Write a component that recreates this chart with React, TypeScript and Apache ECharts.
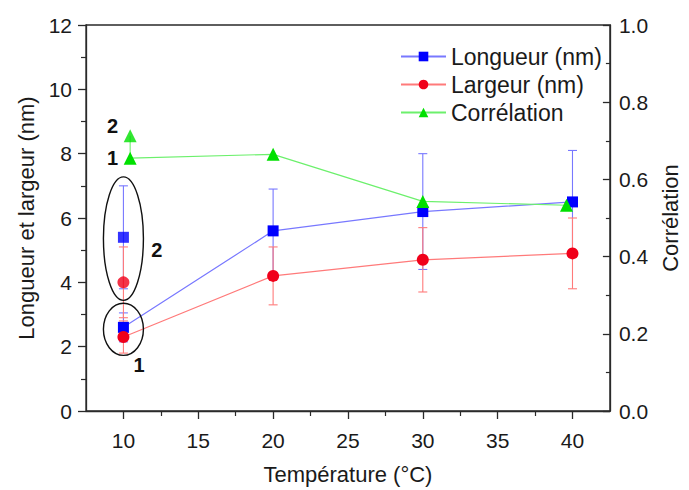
import React, { useEffect, useRef } from "react";
import * as echarts from "echarts";

// ---- data ----
const temps = [10, 20, 30, 40];
const longueur = [2.6, 5.6, 6.2, 6.5];
const longueurErr = [0.45, 1.3, 1.8, 1.6];
const largeur = [2.3, 4.2, 4.7, 4.9];
const largeurErr = [0.5, 0.9, 1.0, 1.1];
const corrTemps = [10.45, 20, 30, 39.6];
const correlation = [0.655, 0.665, 0.543, 0.533];

// second measurement at 10 °C (group "2")
const group2Temp = 10;
const group2CorrTemp = 10.45;
const longueur2 = 5.4;
const longueur2Err = 1.6;
const largeur2 = 4.0;
const largeur2Err = 1.1;
const correlation2 = 0.713;

// ellipses: [x, yCenter, yHalfHeight] in data units
const ellipses = [
  [10, 5.36, 1.92],
  [10, 2.54, 0.81],
];
// annotation labels: [x, y, text]
const annotations: [number, number, string][] = [
  [9.27, 8.86, "2"],
  [9.27, 7.86, "1"],
  [12.23, 5.0, "2"],
  [11.05, 1.43, "1"],
];

const xMajorTicks = [10, 15, 20, 25, 30, 35, 40];
const xMinorTicks = [12.5, 17.5, 22.5, 27.5, 32.5, 37.5];

const FONT = "Liberation Sans, Arial, sans-serif";
const TXT = "#1a1a1a";
const AX = "#2a2a2a";

const BLUE = "#0000ff";
const BLUE_L = "#7878ff";
const RED = "#f0001a";
const RED_L = "#ff7a7a";
const GREEN = "#00e000";
const GREEN_L = "#6cf06c";

function errorSeries(data: number[][], color: string, yAxisIndex: number, caps: boolean) {
  return {
    type: "custom",
    yAxisIndex,
    xAxisIndex: 0,
    z: 1,
    silent: true,
    encode: { x: 0, y: [1, 2] },
    data,
    renderItem: (params: any, api: any) => {
      const x = api.value(0);
      const lo = api.value(1);
      const hi = api.value(2);
      const top = api.coord([x, hi]);
      const bot = api.coord([x, lo]);
      const hw = 4.5;
      const st = { stroke: color, lineWidth: 1.1 };
      const children: any[] = [
        { type: "line", shape: { x1: top[0], y1: top[1], x2: bot[0], y2: bot[1] }, style: st },
      ];
      if (caps) {
        children.push({ type: "line", shape: { x1: top[0] - hw, y1: top[1], x2: top[0] + hw, y2: top[1] }, style: st });
        children.push({ type: "line", shape: { x1: bot[0] - hw, y1: bot[1], x2: bot[0] + hw, y2: bot[1] }, style: st });
      }
      return { type: "group", children };
    },
  };
}

export default function App() {
  const ref = useRef<HTMLDivElement>(null);
  useEffect(() => {
    if (!ref.current) return;
    const chart = echarts.init(ref.current, null, { renderer: "svg" });

    const blueErr = temps.map((t, i) => [t, longueur[i] - longueurErr[i], longueur[i] + longueurErr[i]]);
    blueErr.push([group2Temp, longueur2 - longueur2Err, longueur2 + longueur2Err]);
    const redErr = temps.map((t, i) => [t, largeur[i] - largeurErr[i], largeur[i] + largeurErr[i]]);
    redErr.push([group2Temp, largeur2 - largeur2Err, largeur2 + largeur2Err]);
    const greenLink = [[group2CorrTemp, correlation[0], correlation2]];

    const option: any = {
      animation: false,
      backgroundColor: "#ffffff",
      textStyle: { fontFamily: FONT, color: TXT },
      grid: {
        left: 86,
        right: 70,
        top: 25,
        bottom: 71,
        show: true,
        borderColor: AX,
        borderWidth: 1.3,
        containLabel: false,
      },
      legend: {
        orient: "vertical",
        left: 395,
        top: 40,
        itemWidth: 45,
        itemHeight: 12,
        itemGap: 5,
        textStyle: { fontFamily: FONT, fontSize: 23, color: TXT },
        data: ["Longueur (nm)", "Largeur (nm)", "Corrélation"],
      },
      xAxis: [
        {
          type: "value",
          min: 7.5,
          max: 42.5,
          interval: 2.5,
          position: "bottom",
          axisLine: { show: true, lineStyle: { color: AX, width: 1.3 } },
          axisTick: { show: true, customValues: xMajorTicks, length: 8, lineStyle: { color: AX, width: 1.3 } },
          axisLabel: { customValues: xMajorTicks, fontSize: 21, color: TXT, fontFamily: FONT, margin: 19 },
          splitLine: { show: false },
          name: "Température (°C)",
          nameLocation: "middle",
          nameGap: 52,
          nameTextStyle: { fontSize: 22, color: TXT, fontFamily: FONT },
        },
        {
          type: "value",
          min: 7.5,
          max: 42.5,
          interval: 2.5,
          position: "bottom",
          axisLine: { show: false },
          axisTick: { show: true, customValues: xMinorTicks, length: 5, lineStyle: { color: AX, width: 1.2 } },
          axisLabel: { show: false },
          splitLine: { show: false },
        },
      ],
      yAxis: [
        {
          type: "value",
          min: 0,
          max: 12,
          interval: 2,
          position: "left",
          axisLine: { show: true, lineStyle: { color: AX, width: 1.3 } },
          axisTick: { show: true, length: 8, lineStyle: { color: AX, width: 1.3 } },
          minorTick: { show: true, splitNumber: 2, length: 5, lineStyle: { color: AX, width: 1.2 } },
          axisLabel: { fontSize: 21, color: TXT, fontFamily: FONT, margin: 14 },
          splitLine: { show: false },
          name: "Longueur et largeur (nm)",
          nameLocation: "middle",
          nameGap: 46,
          nameTextStyle: { fontSize: 22, color: TXT, fontFamily: FONT },
        },
        {
          type: "value",
          min: 0,
          max: 1,
          interval: 0.2,
          position: "right",
          axisLine: { show: true, lineStyle: { color: AX, width: 1.3 } },
          axisTick: { show: true, inside: true, length: 7, lineStyle: { color: AX, width: 1.3 } },
          minorTick: { show: true, splitNumber: 2, length: 4, lineStyle: { color: AX, width: 1.2 } },
          axisLabel: {
            fontSize: 21,
            color: TXT,
            fontFamily: FONT,
            margin: 9,
            formatter: (v: number) => v.toFixed(1),
          },
          splitLine: { show: false },
          name: "Corrélation",
          nameLocation: "middle",
          nameGap: 46,
          nameTextStyle: { fontSize: 22, color: TXT, fontFamily: FONT },
        },
      ],
      series: [
        errorSeries(blueErr, BLUE_L, 0, true),
        errorSeries(redErr, RED_L, 0, true),
        errorSeries(greenLink, GREEN_L, 1, false),
        {
          name: "Longueur (nm)",
          type: "line",
          xAxisIndex: 0,
          yAxisIndex: 0,
          z: 3,
          data: temps.map((t, i) => [t, longueur[i]]),
          symbol: "rect",
          symbolSize: 11,
          itemStyle: { color: BLUE },
          lineStyle: { color: BLUE_L, width: 1.2 },
        },
        {
          name: "Largeur (nm)",
          type: "line",
          xAxisIndex: 0,
          yAxisIndex: 0,
          z: 3,
          data: temps.map((t, i) => [t, largeur[i]]),
          symbol: "circle",
          symbolSize: 12,
          itemStyle: { color: RED },
          lineStyle: { color: RED_L, width: 1.2 },
        },
        {
          name: "Corrélation",
          type: "line",
          xAxisIndex: 0,
          yAxisIndex: 1,
          z: 3,
          data: corrTemps.map((t, i) => [t, correlation[i]]),
          symbol: "triangle",
          symbolSize: 13,
          itemStyle: { color: GREEN },
          lineStyle: { color: GREEN_L, width: 1.2 },
        },
        {
          name: "Longueur 2",
          type: "scatter",
          yAxisIndex: 0,
          z: 4,
          data: [[group2Temp, longueur2]],
          symbol: "rect",
          symbolSize: 11,
          itemStyle: { color: BLUE },
        },
        {
          name: "Largeur 2",
          type: "scatter",
          yAxisIndex: 0,
          z: 4,
          data: [[group2Temp, largeur2]],
          symbol: "circle",
          symbolSize: 12,
          itemStyle: { color: RED },
        },
        {
          name: "Corrélation 2",
          type: "scatter",
          yAxisIndex: 1,
          z: 4,
          data: [[group2CorrTemp, correlation2]],
          symbol: "triangle",
          symbolSize: 13,
          itemStyle: { color: GREEN },
        },
        {
          name: "ellipses",
          type: "custom",
          yAxisIndex: 0,
          z: 5,
          silent: true,
          encode: { x: 0, y: 1 },
          data: ellipses,
          renderItem: (params: any, api: any) => {
            const c = api.coord([api.value(0), api.value(1)]);
            const ry = api.size([0, api.value(2)])[1];
            const rx = 20;
            const d = `M ${c[0] - rx} ${c[1]} A ${rx} ${ry} 0 1 0 ${c[0] + rx} ${c[1]} A ${rx} ${ry} 0 1 0 ${c[0] - rx} ${c[1]} Z`;
            return {
              type: "path",
              shape: { pathData: d },
              style: { fill: "none", stroke: "#111", lineWidth: 1.4 },
            };
          },
        },
        {
          name: "annotations",
          type: "custom",
          yAxisIndex: 0,
          z: 5,
          silent: true,
          encode: { x: 0, y: 1 },
          data: annotations,
          renderItem: (params: any, api: any) => {
            const c = api.coord([api.value(0), api.value(1)]);
            return {
              type: "text",
              x: c[0],
              y: c[1],
              style: {
                text: annotations[params.dataIndex][2],
                font: `bold 20px ${FONT}`,
                fill: "#111",
                align: "center",
                verticalAlign: "middle",
              },
            };
          },
        },
      ],
    };
    chart.setOption(option);
    return () => chart.dispose();
  }, []);

  return (
    <div
      ref={ref}
      style={{ position: "fixed", left: 0, top: 0, width: 689, height: 490, background: "#fff" }}
    />
  );
}
